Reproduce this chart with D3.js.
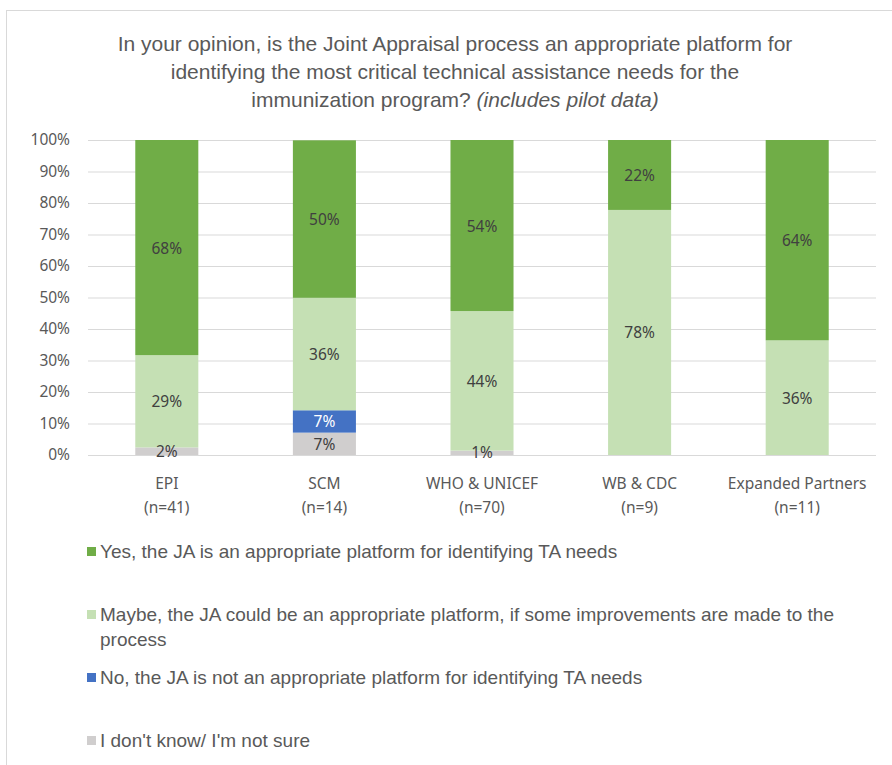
<!DOCTYPE html>
<html>
<head>
<meta charset="utf-8">
<script src="https://cdn.jsdelivr.net/npm/d3@7"></script>
<style>
  body { margin: 0; background: #fff; }
</style>
</head>
<body>
<div id="chart"></div>
<script>
const categories = ['EPI', 'SCM', 'WHO & UNICEF', 'WB & CDC', 'Expanded Partners'];
const sampleSizes = ['(n=41)', '(n=14)', '(n=70)', '(n=9)', '(n=11)'];
const seriesNames = [
  "I don't know/ I'm not sure",
  'No, the JA is not an appropriate platform for identifying TA needs',
  'Maybe, the JA could be an appropriate platform, if some improvements are made to the process',
  'Yes, the JA is an appropriate platform for identifying TA needs'
];
const dontKnow = [2.4, 7.1, 1.4, 0, 0];
const no = [0, 7.1, 0, 0, 0];
const maybe = [29.3, 35.7, 44.3, 77.8, 36.4];
const yes = [68.3, 50.0, 54.3, 22.2, 63.6];
const yTicks = [0, 10, 20, 30, 40, 50, 60, 70, 80, 90, 100];
const colors = ['#d0cece', '#4472c4', '#c5e0b4', '#70ad47'];

const width = 892, height = 765;
const sans = '"Noto Sans", sans-serif';
const narrow = '"Liberation Sans", sans-serif';
const svg = d3.select('#chart').append('svg').attr('width', width).attr('height', height);

// outer frame
svg.append('rect').attr('x', 6.5).attr('y', 10.5).attr('width', width + 10).attr('height', height + 10)
  .attr('fill', 'none').attr('stroke', '#d9d9d9');

// title
const title = svg.append('text').attr('text-anchor', 'middle').attr('fill', '#595959')
  .attr('font-family', narrow).attr('font-size', 21);
title.append('tspan').attr('x', 455).attr('y', 51).text('In your opinion, is the Joint Appraisal process an appropriate platform for');
title.append('tspan').attr('x', 455).attr('y', 79).text('identifying the most critical technical assistance needs for the');
const l3 = title.append('tspan').attr('x', 455).attr('y', 107);
l3.append('tspan').text('immunization program? ');
l3.append('tspan').attr('font-style', 'italic').text('(includes pilot data)');

const x = d3.scaleBand().domain(categories).range([88, 876]).paddingInner(0.6).paddingOuter(0.3);
const y = d3.scaleLinear().domain([0, 100]).range([455, 140]);

// grid
svg.append('g').selectAll('line').data(yTicks).join('line')
  .attr('x1', 88).attr('x2', 876).attr('y1', d => y(d) + 0.5).attr('y2', d => y(d) + 0.5)
  .attr('stroke', '#d9d9d9');

// y axis labels
const yAxis = svg.append('g').attr('transform', 'translate(76,0)')
  .call(d3.axisLeft(y).tickValues(yTicks).tickFormat(d => d + '%').tickSize(0).tickPadding(6));
yAxis.select('.domain').remove();
yAxis.selectAll('text').attr('fill', '#595959').attr('font-size', 15.5).attr('font-family', sans);

// stacked data
const rows = categories.map((c, i) => ({ cat: c, s0: dontKnow[i], s1: no[i], s2: maybe[i], s3: yes[i] }));
const stack = d3.stack().keys(['s0', 's1', 's2', 's3'])(rows);
const bars = svg.append('g');
const labels = svg.append('g').attr('font-family', sans);
stack.forEach((layer, li) => {
  bars.append('g').selectAll('rect').data(layer).join('rect')
    .attr('x', d => x(d.data.cat))
    .attr('width', x.bandwidth())
    .attr('y', d => y(d[1]))
    .attr('height', d => y(d[0]) - y(d[1]))
    .attr('fill', colors[li]);
  labels.append('g').selectAll('text').data(layer.filter(d => d[1] - d[0] > 0)).join('text')
    .attr('x', d => x(d.data.cat) + x.bandwidth() / 2)
    .attr('y', d => Math.min(y((d[0] + d[1]) / 2), 452) + 6)
    .attr('text-anchor', 'middle')
    .attr('font-size', 15.5)
    .attr('fill', li === 1 ? '#ffffff' : '#404040')
    .text(d => Math.round(d[1] - d[0]) + '%');
});

// category labels
const cat = svg.append('g').attr('font-family', sans);
categories.forEach((c, i) => {
  const cx = x(c) + x.bandwidth() / 2;
  cat.append('text').attr('x', cx).attr('y', 489).attr('text-anchor', 'middle').attr('font-size', 15.5).attr('fill', '#595959').text(c);
  cat.append('text').attr('x', cx).attr('y', 513).attr('text-anchor', 'middle').attr('font-size', 15.5).attr('fill', '#595959').text(sampleSizes[i]);
});

// legend (top to bottom: yes, maybe, no, don't know)
const legendOrder = [3, 2, 1, 0];
const legendY = [552, 615, 678, 741];
const leg = svg.append('g').attr('font-family', narrow);
legendOrder.forEach((si, k) => {
  leg.append('rect').attr('x', 87).attr('y', legendY[k] - 5).attr('width', 9).attr('height', 9).attr('fill', colors[si]);
  const t = leg.append('text').attr('x', 100).attr('y', legendY[k] + 6).attr('font-size', 19).attr('fill', '#595959');
  if (si === 2) {
    t.append('tspan').attr('x', 100).text('Maybe, the JA could be an appropriate platform, if some improvements are made to the');
    t.append('tspan').attr('x', 100).attr('dy', 25).text('process');
  } else {
    t.text(seriesNames[si]);
  }
});
</script>
</body>
</html>
